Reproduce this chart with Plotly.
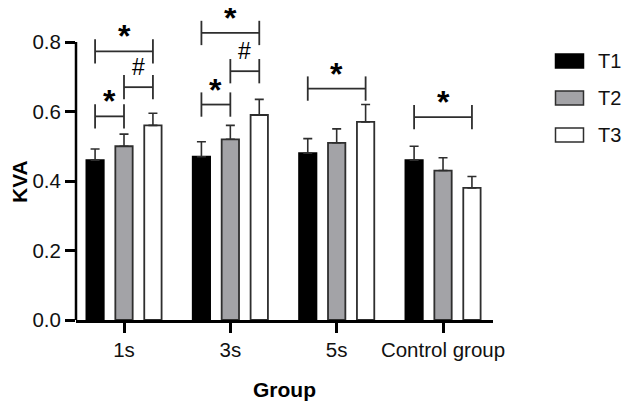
import plotly.graph_objects as go

# ---------------- data ----------------
groups = ["1s", "3s", "5s", "Control group"]
series_names = ["T1", "T2", "T3"]
t1_values = [0.46, 0.47, 0.48, 0.46]
t2_values = [0.50, 0.52, 0.51, 0.43]
t3_values = [0.56, 0.59, 0.57, 0.38]
t1_err = [0.032, 0.043, 0.042, 0.040]
t2_err = [0.035, 0.040, 0.040, 0.037]
t3_err = [0.035, 0.045, 0.050, 0.033]
y_tick_vals = [0.0, 0.2, 0.4, 0.6, 0.8]
y_tick_text = ["0.0", "0.2", "0.4", "0.6", "0.8"]

# significance brackets: group, from-series, to-series, height, label
br_group = [0, 0, 0, 1, 1, 1, 2, 3]
br_from = [0, 1, 0, 0, 1, 0, 0, 0]
br_to = [1, 2, 2, 1, 2, 2, 2, 2]
br_height = [0.586, 0.670, 0.773, 0.620, 0.716, 0.826, 0.666, 0.584]
br_label = ["*", "#", "*", "*", "#", "*", "*", "*"]

# ---------------- style ----------------
fills = ["#000000", "#a3a3a7", "#ffffff"]
outline = "#2e2e2e"
series_offsets = [-0.272, 0.0, 0.272]
bar_width = 0.163
BR_TICK = 0.035
FONT = "Liberation Sans, Arial, sans-serif"

OFF = 8  # page body margin
W, H = 630 - OFF, 405 - OFF
# plot area in screen pixels
SX0, SX1, SY0, SY1 = 76, 493, 13, 320
L, R, T, B = SX0 - OFF, W - (SX1 - OFF), SY0 - OFF, H - (SY1 - OFF)
plot_w = SX1 - SX0
plot_h = SY1 - SY0
px_per_unit_y = 347.5
y_max = plot_h / px_per_unit_y
x_min, x_max = -0.4514, 3.470


def px2paper(px, py):
    return (px - SX0) / plot_w, (SY1 - py) / plot_h


values = [t1_values, t2_values, t3_values]
errs = [t1_err, t2_err, t3_err]

fig = go.Figure()
for j, name in enumerate(series_names):
    xs = [i + series_offsets[j] for i in range(len(groups))]
    fig.add_trace(go.Bar(
        x=xs, y=values[j], width=bar_width, name=name,
        marker=dict(color=fills[j], line=dict(color=outline if j else "#000000", width=1.8)),
        error_y=dict(type="data", array=errs[j], arrayminus=[0] * len(groups),
                     symmetric=False, color=outline, thickness=1.6, width=4.5),
        showlegend=False,
    ))

# brackets
for g, a, b, h, lab in zip(br_group, br_from, br_to, br_height, br_label):
    xa = g + series_offsets[a]
    xb = g + series_offsets[b]
    fig.add_trace(go.Scatter(
        x=[xa, xa, None, xa, xb, None, xb, xb],
        y=[h - BR_TICK, h + BR_TICK, None, h, h, None, h - BR_TICK, h + BR_TICK],
        mode="lines", line=dict(color=outline, width=1.8),
        showlegend=False, hoverinfo="skip", cliponaxis=False,
    ))
    if lab == "*":
        fig.add_annotation(x=(xa + xb) / 2, y=h, xref="x", yref="y", text="<b>*</b>",
                           showarrow=False, yanchor="middle", yshift=15,
                           font=dict(family=FONT, size=32, color="#000000"))
    else:
        fig.add_annotation(x=(xa + xb) / 2, y=h, xref="x", yref="y", text="#",
                           showarrow=False, yanchor="middle", yshift=20,
                           font=dict(family=FONT, size=23, color="#000000"))

# y axis line (0 to 0.8 only)
fig.add_shape(type="line", xref="paper", yref="y", x0=0, x1=0, y0=0, y1=0.8,
              line=dict(color="#000000", width=2.5))

# axis titles
kx, ky = px2paper(19, 181)
fig.add_annotation(x=kx, y=ky, xref="paper", yref="paper", text="<b>KVA</b>",
                   textangle=-90, showarrow=False, xanchor="center", yanchor="middle",
                   font=dict(family=FONT, size=21, color="#000000"))
gx, gy = px2paper(284.5, 389)
fig.add_annotation(x=gx, y=gy, xref="paper", yref="paper", text="<b>Group</b>",
                   showarrow=False, xanchor="center", yanchor="middle",
                   font=dict(family=FONT, size=21, color="#000000"))

# manual legend
legend_centers = [61, 98, 135]
for j, name in enumerate(series_names):
    cy = legend_centers[j]
    x0, y0 = px2paper(555.5, cy + 7)
    x1, y1 = px2paper(583.5, cy - 7)
    fig.add_shape(type="rect", xref="paper", yref="paper", x0=x0, x1=x1, y0=y0, y1=y1,
                  fillcolor=fills[j], line=dict(color=outline if j else "#000000", width=1.5))
    tx, ty = px2paper(596, cy)
    fig.add_annotation(x=tx, y=ty, xref="paper", yref="paper", text=name,
                       showarrow=False, xanchor="left", yanchor="middle",
                       font=dict(family=FONT, size=20, color="#111111"))

fig.update_layout(
    width=W, height=H,
    margin=dict(l=L, r=R, t=T, b=B, pad=0),
    paper_bgcolor="#ffffff", plot_bgcolor="#ffffff",
    barmode="overlay",
    font=dict(family=FONT, size=20, color="#111111"),
    xaxis=dict(range=[x_min, x_max], tickmode="array", tickvals=list(range(len(groups))),
               ticktext=groups, showline=True, linecolor="#000000", linewidth=2.5,
               ticks="outside", ticklen=10, tickwidth=2.5, tickcolor="#000000",
               showgrid=False, zeroline=False, tickfont=dict(size=20.5)),
    yaxis=dict(range=[0, y_max], tickmode="array", tickvals=y_tick_vals, ticktext=y_tick_text,
               showline=False, ticks="outside", ticklen=10, tickwidth=2.5, tickcolor="#000000",
               showgrid=False, zeroline=False, tickfont=dict(size=20.5)),
)

fig.write_html("out.html")
